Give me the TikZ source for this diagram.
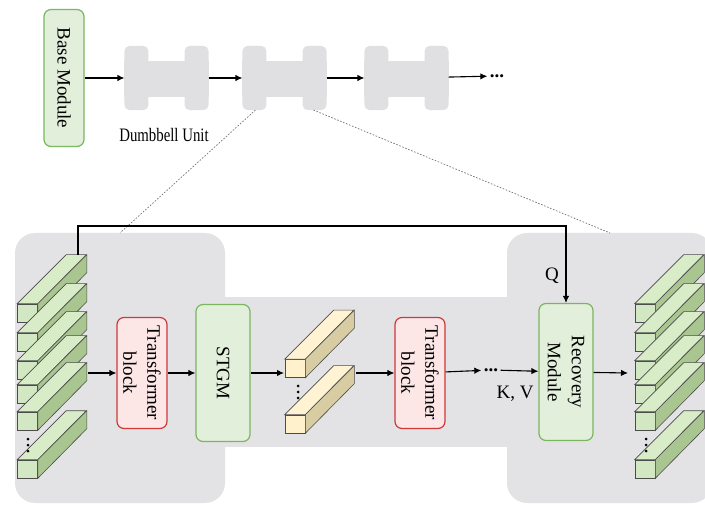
\documentclass[tikz,border=0pt]{standalone}
\usepackage{fontspec}
\setmainfont{Liberation Serif}
\usetikzlibrary{arrows.meta}

\definecolor{panel}{HTML}{E3E3E5}
\definecolor{dbgray}{HTML}{E0E0E2}
\definecolor{modfill}{HTML}{E2EFDA}
\definecolor{moddraw}{HTML}{7BB661}
\definecolor{tffill}{HTML}{FCE6E6}
\definecolor{tfdraw}{HTML}{CC3A3A}
\definecolor{greenfront}{HTML}{D2E8C2}
\definecolor{greentop}{HTML}{D8ECC8}
\definecolor{greenside}{HTML}{A9C590}
\definecolor{yellowfront}{HTML}{FFF1CC}
\definecolor{yellowtop}{HTML}{FFF3D4}
\definecolor{yellowside}{HTML}{D8CCA3}

% boxes are turned by -90, so width runs down the page
\tikzset{
  module/.style={draw=moddraw, fill=modfill, line width=1.2pt, rounded corners=7pt, inner sep=0pt,
    rotate=-90, align=center},
  tfblock/.style={draw=tfdraw, fill=tffill, line width=1.2pt, rounded corners=7pt, inner sep=0pt,
    rotate=-90, align=center, minimum width=111pt, minimum height=50pt},
  dbunit/.style={minimum width=83pt, minimum height=63pt, inner sep=0pt},
  face/.style={draw=black!70, line width=0.6pt}
}

\newcommand\dumbbell[2]{%
  \node[dbunit] (#1) at (#2) {};
  \fill[dbgray, rounded corners=5pt] (#1.north west) rectangle ([xshift=24pt]#1.south west)
    ([xshift=-24pt]#1.north east) rectangle (#1.south east);
  \fill[dbgray] ([yshift=-15pt]#1.north west) rectangle ([yshift=13pt]#1.south east);
}
\newcommand\cuboid[3]{%
  \node[face, fill=#3front, minimum width=20pt, minimum height=18pt, inner sep=0pt] (#1) at (#2) {};
  \filldraw[face, fill=#3top] (#1.north west) -- ++(49,-49) -- ++(20,0) -- (#1.north east) -- cycle;
  \filldraw[face, fill=#3side] (#1.north east) -- ++(49,-49) -- ++(0,18) -- (#1.south east) -- cycle;
}

\begin{document}
\begin{tikzpicture}[x=1pt, y=-1pt, >={Latex[length=7pt,width=6.5pt]}, line width=1.1pt,
  font=\fontsize{19}{24}\selectfont]

\useasboundingbox (0,0) rectangle (705,505);
\clip (0,0) rectangle (705,505);

\fill[panel, rounded corners=20pt] (15,233) rectangle (225,503);
\fill[panel] (220,297) rectangle (512,447);
\fill[panel, rounded corners=20pt] (507,233) rectangle (712,503);

\node[module, minimum width=137pt, minimum height=40pt] (base) at (64,78) {Base Module};
\dumbbell{d1}{166.5,78}
\dumbbell{d2}{284.5,78}
\dumbbell{d3}{406.5,78}
\node[inner sep=2pt] (more) at (497,76) {\textbf{...}};
\node (dblabel) at (164,135) {\scalebox{0.78}[1]{Dumbbell Unit}};

\draw[->] (base) -- (d1);
\draw[->] (d1) -- (d2);
\draw[->] (d2) -- (d3);
\draw[->] (d3) -- (more);

\coordinate (zl) at (120,233);
\coordinate (zr) at (610,233);
\draw[black!55, line width=0.7pt, dash pattern=on 1.6pt off 1.6pt] ([xshift=13pt]d2.south west) -- (zl);
\draw[black!55, line width=0.7pt, dash pattern=on 1.6pt off 1.6pt] ([xshift=-13pt]d2.south east) -- (zr);

\cuboid{l1}{27.5,313}{green}
\cuboid{l2}{27.5,342}{green}
\cuboid{l3}{27.5,370}{green}
\cuboid{l4}{27.5,394}{green}
\cuboid{l5}{27.5,421}{green}
\cuboid{l6}{27.5,469}{green}
\foreach \y in {439,445,451} \fill (28,\y) circle (1.5pt);

\cuboid{y1}{295,368.5}{yellow}
\cuboid{y2}{295,424}{yellow}
\foreach \y in {386,392,398} \fill (298,\y) circle (1.5pt);

\cuboid{r1}{645,313}{green}
\cuboid{r2}{645,342}{green}
\cuboid{r3}{645,370}{green}
\cuboid{r4}{645,394}{green}
\cuboid{r5}{645,421}{green}
\cuboid{r6}{645,469}{green}
\foreach \y in {439,445,451} \fill (646,\y) circle (1.5pt);

\node[tfblock] (tb1) at (142,373) {Transformer\\block};
\node[module, minimum width=137pt, minimum height=54pt] (stgm) at (223,373) {STGM};
\node[tfblock] (tb2) at (420,373) {Transformer\\block};
\node[module, minimum width=137pt, minimum height=54pt] (rec) at (566,372) {Recovery\\Module};
\node[inner sep=2pt] (dots2) at (491,370) {\textbf{...}};
\node (kv) at (515,394) {K, V};
\node (q) at (552,276) {Q};

\coordinate (lout) at (88,373);
\coordinate (yin) at (284,373);
\coordinate (yout) at (356,373);
\coordinate (rin) at (628,373);
\coordinate (qsrc) at (78,255);

\draw[->] (lout) -- (tb1);
\draw[->] (tb1) -- (stgm);
\draw[->] (stgm) -- (yin);
\draw[->] (yout) -- (tb2);
\draw[->] (tb2) -- (dots2);
\draw[->] (dots2) -- (rec);
\draw[->] (rec) -- (rin);
\draw[->] (qsrc) -- ++(0,-29) -| (rec.west);

\end{tikzpicture}
\end{document}
